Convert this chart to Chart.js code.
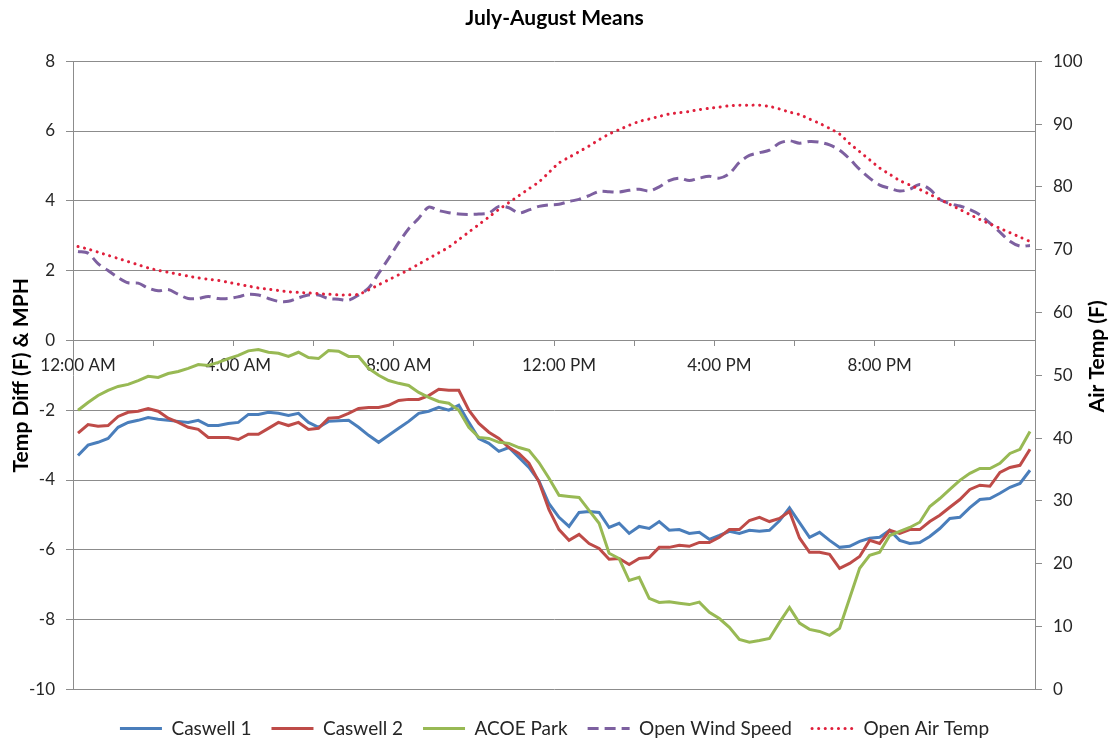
<!DOCTYPE html>
<html>
<head>
<meta charset="utf-8">
<script src="https://cdn.jsdelivr.net/npm/chart.js@4.4.1/dist/chart.umd.min.js"></script>
<style>
  html, body { margin: 0; padding: 0; background: #fff; }
</style>
</head>
<body>
<canvas id="meu-grafico" width="1109" height="741"></canvas>
<script>
// rótulos do eixo x (só estes aparecem)
const rotulosX = ["12:00 AM", "4:00 AM", "8:00 AM", "12:00 PM", "4:00 PM", "8:00 PM"];

// categorias: um ponto a cada 15 minutos
const horarios = [];
for (let h = 0; h < 24; h++) {
    for (let m = 0; m < 60; m += 15) {
        const hh = (h % 12 === 0) ? 12 : h % 12;
        horarios.push(hh + ":" + String(m).padStart(2, "0") + (h < 12 ? " AM" : " PM"));
    }
}

// séries (eixo esquerdo)
const caswell1 = [
    -3.30, -3.00, -2.92, -2.81, -2.49, -2.35, -2.29, -2.21, -2.26, -2.29, -2.32, -2.35,
    -2.29, -2.44, -2.44, -2.38, -2.35, -2.12, -2.12, -2.06, -2.09, -2.15, -2.09, -2.35,
    -2.49, -2.32, -2.30, -2.29, -2.49, -2.72, -2.92, -2.72, -2.52, -2.32, -2.09, -2.03,
    -1.92, -2.00, -1.86, -2.35, -2.81, -2.95, -3.18, -3.07, -3.35, -3.64, -4.03, -4.68,
    -5.07, -5.33, -4.93, -4.90, -4.93, -5.36, -5.24, -5.53, -5.33, -5.39, -5.19, -5.44,
    -5.42, -5.53, -5.50, -5.70, -5.59, -5.47, -5.53, -5.44, -5.47, -5.44, -5.17, -4.80,
    -5.22, -5.64, -5.50, -5.73, -5.93, -5.90, -5.76, -5.67, -5.64, -5.44, -5.73, -5.82,
    -5.79, -5.62, -5.39, -5.10, -5.07, -4.79, -4.56, -4.53, -4.38, -4.21, -4.10, -3.72
];
const caswell2 = [
    -2.66, -2.41, -2.46, -2.44, -2.18, -2.06, -2.03, -1.95, -2.03, -2.23, -2.35, -2.49,
    -2.55, -2.78, -2.78, -2.78, -2.84, -2.69, -2.69, -2.52, -2.35, -2.44, -2.35, -2.55,
    -2.52, -2.23, -2.21, -2.09, -1.95, -1.92, -1.92, -1.86, -1.72, -1.69, -1.69, -1.58,
    -1.40, -1.43, -1.43, -2.00, -2.38, -2.63, -2.81, -3.07, -3.24, -3.52, -4.05, -4.85,
    -5.42, -5.73, -5.56, -5.82, -5.96, -6.27, -6.25, -6.42, -6.25, -6.22, -5.93, -5.93,
    -5.87, -5.90, -5.79, -5.79, -5.64, -5.42, -5.42, -5.16, -5.07, -5.19, -5.10, -4.90,
    -5.66, -6.07, -6.07, -6.13, -6.53, -6.39, -6.19, -5.73, -5.82, -5.44, -5.53, -5.42,
    -5.42, -5.19, -5.01, -4.78, -4.56, -4.27, -4.15, -4.18, -3.78, -3.64, -3.58, -3.12
];
const acoePark = [
    -2.00, -1.78, -1.58, -1.43, -1.32, -1.26, -1.15, -1.03, -1.06, -0.95, -0.89, -0.80,
    -0.69, -0.72, -0.63, -0.52, -0.43, -0.30, -0.26, -0.34, -0.37, -0.46, -0.34, -0.49,
    -0.52, -0.29, -0.31, -0.46, -0.46, -0.80, -1.00, -1.15, -1.23, -1.29, -1.49, -1.63,
    -1.75, -1.80, -2.00, -2.49, -2.78, -2.81, -2.92, -2.95, -3.07, -3.15, -3.50, -3.95,
    -4.44, -4.47, -4.50, -4.87, -5.24, -6.10, -6.25, -6.88, -6.79, -7.39, -7.51, -7.49,
    -7.53, -7.57, -7.50, -7.79, -7.97, -8.22, -8.57, -8.65, -8.60, -8.54, -8.08, -7.65,
    -8.10, -8.28, -8.34, -8.45, -8.25, -7.39, -6.53, -6.16, -6.07, -5.59, -5.47, -5.36,
    -5.21, -4.76, -4.53, -4.27, -4.01, -3.81, -3.67, -3.67, -3.52, -3.24, -3.12, -2.61
];
const ventoAberto = [
    2.55, 2.50, 2.20, 2.00, 1.80, 1.65, 1.64, 1.50, 1.42, 1.46, 1.32, 1.20,
    1.20, 1.26, 1.20, 1.20, 1.25, 1.32, 1.30, 1.20, 1.12, 1.12, 1.22, 1.30,
    1.30, 1.20, 1.18, 1.15, 1.30, 1.50, 1.92, 2.35, 2.80, 3.20, 3.50, 3.82,
    3.72, 3.66, 3.62, 3.61, 3.62, 3.65, 3.84, 3.80, 3.65, 3.74, 3.84, 3.88,
    3.90, 3.98, 4.04, 4.15, 4.27, 4.26, 4.25, 4.30, 4.33, 4.28, 4.40, 4.58,
    4.65, 4.58, 4.65, 4.70, 4.65, 4.78, 5.10, 5.30, 5.38, 5.45, 5.65, 5.72,
    5.65, 5.70, 5.68, 5.60, 5.45, 5.20, 4.90, 4.65, 4.45, 4.36, 4.28, 4.33,
    4.47, 4.33, 4.04, 3.92, 3.85, 3.75, 3.60, 3.36, 3.10, 2.84, 2.70, 2.72
];
// série do eixo direito
const arAberto = [
    70.5, 70.1, 69.6, 69.1, 68.6, 68.1, 67.6, 67.1, 66.7, 66.4, 66.1, 65.8,
    65.5, 65.3, 65.1, 64.8, 64.5, 64.2, 63.9, 63.7, 63.5, 63.3, 63.2, 63.1,
    63.0, 62.9, 62.8, 62.8, 62.9, 63.6, 64.4, 65.2, 66.0, 66.8, 67.7, 68.6,
    69.5, 70.4, 71.6, 72.8, 74.0, 75.2, 76.4, 77.5, 78.6, 79.7, 80.8, 82.3,
    83.8, 84.7, 85.6, 86.5, 87.5, 88.4, 89.1, 89.8, 90.4, 90.8, 91.2, 91.6,
    91.8, 92.0, 92.3, 92.5, 92.7, 92.9, 93.0, 93.0, 93.0, 92.8, 92.4, 91.9,
    91.5, 90.8, 90.1, 89.3, 88.4, 86.9, 85.6, 84.3, 83.0, 82.0, 81.0, 80.3,
    79.6, 78.8, 78.0, 77.2, 76.4, 75.6, 74.8, 74.1, 73.4, 72.7, 72.0, 71.3
];

Chart.defaults.font.family = "Lato, 'Open Sans', sans-serif";
Chart.defaults.font.size = 17;
Chart.defaults.color = "#262626";

const cinza = "#8c8c8c";

// título do eixo direito, lido de baixo para cima como no Excel
const tituloDireita = {
    id: "tituloDireita",
    afterDraw(chart) {
        const { ctx, chartArea } = chart;
        ctx.save();
        ctx.translate(1097, (chartArea.top + chartArea.bottom) / 2 - 19);
        ctx.rotate(-Math.PI / 2);
        ctx.font = "bold 21px Lato, sans-serif";
        ctx.fillStyle = "#000";
        ctx.textAlign = "center";
        ctx.textBaseline = "middle";
        ctx.fillText("Air Temp (F)", 0, 0);
        ctx.restore();
    }
};

const ctx = document.querySelector("#meu-grafico");

new Chart(ctx, {
    type: "line",
    data: {
        labels: horarios,
        datasets: [
            { label: "Caswell 1", data: caswell1, borderColor: "#4A7EBB", backgroundColor: "#4A7EBB", borderWidth: 3, order: 5, yAxisID: "y" },
            { label: "Caswell 2", data: caswell2, borderColor: "#BE4B48", backgroundColor: "#BE4B48", borderWidth: 3, order: 4, yAxisID: "y" },
            { label: "ACOE Park", data: acoePark, borderColor: "#98B954", backgroundColor: "#98B954", borderWidth: 3, order: 3, yAxisID: "y" },
            { label: "Open Wind Speed", data: ventoAberto, borderColor: "#7D60A0", backgroundColor: "#7D60A0", borderWidth: 3, borderDash: [11, 6], tension: 0.3, order: 2, yAxisID: "y" },
            { label: "Open Air Temp", data: arAberto, borderColor: "#E0203C", backgroundColor: "#E0203C", borderWidth: 3, borderDash: [0.1, 6.5], borderCapStyle: "round", tension: 0.3, order: 1, yAxisID: "y1" }
        ]
    },
    options: {
        responsive: false,
        animation: false,
        elements: { point: { radius: 0 }, line: { tension: 0 } },
        // a legenda fica rente à borda de baixo, como no original
        layout: { padding: { top: 0, left: 0, right: 0, bottom: -7 } },
        scales: {
            x: {
                type: "category",
                position: { y: 0 },
                offset: true,
                border: { color: cinza },
                grid: {
                    offset: true,
                    drawOnChartArea: false,
                    tickLength: 5,
                    color: (c) => (c.index % 8 === 0 ? cinza : "rgba(0,0,0,0)")
                },
                ticks: {
                    autoSkip: false,
                    maxRotation: 0,
                    padding: 10,
                    callback: (v, i) => (i % 16 === 0 ? rotulosX[i / 16] : "")
                }
            },
            y: {
                position: "left",
                min: -10,
                max: 8,
                afterFit(escala) { escala.width = 73; },
                ticks: { stepSize: 2, padding: 11 },
                grid: { color: cinza, tickLength: 7 },
                border: { color: cinza },
                title: {
                    display: true,
                    text: "Temp Diff (F) & MPH",
                    color: "#000",
                    font: { weight: "bold", size: 21 },
                    padding: { top: 9, bottom: 0 }
                }
            },
            y1: {
                position: "right",
                min: 0,
                max: 100,
                afterFit(escala) { escala.width = 74; },
                ticks: { stepSize: 10, padding: 11 },
                grid: { drawOnChartArea: false, color: cinza, tickLength: 7 },
                border: { color: cinza }
            }
        },
        plugins: {
            title: {
                display: true,
                text: "July-August Means",
                color: "#000",
                font: { weight: "bold", size: 21 },
                padding: { top: 6, bottom: 30 }
            },
            legend: {
                position: "bottom",
                // título vazio só para afastar a legenda do gráfico
                title: { display: true, text: "", padding: 0, font: { size: 8 } },
                labels: {
                    usePointStyle: true,
                    pointStyle: "line",
                    pointStyleWidth: 42,
                    padding: 20,
                    font: { size: 19 },
                    sort: (a, b) => a.datasetIndex - b.datasetIndex,
                    // traço da legenda igual ao da linha (tracejado / pontilhado)
                    generateLabels(chart) {
                        const itens = Chart.defaults.plugins.legend.labels.generateLabels(chart);
                        itens.forEach((item) => {
                            const ds = chart.data.datasets[item.datasetIndex];
                            item.lineWidth = ds.borderWidth;
                            item.lineDash = ds.borderDash || [];
                            item.lineCap = ds.borderCapStyle || "butt";
                            item.strokeStyle = ds.borderColor;
                        });
                        return itens;
                    }
                }
            },
            tooltip: { enabled: false }
        }
    },
    plugins: [tituloDireita]
});
</script>
</body>
</html>
